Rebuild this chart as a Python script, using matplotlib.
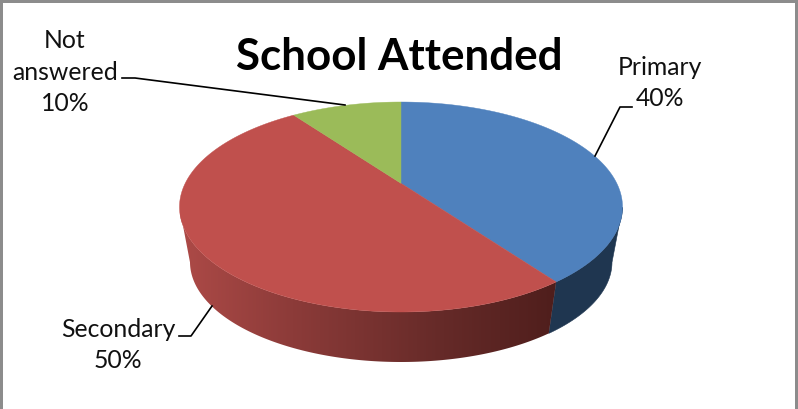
import numpy as np
import matplotlib
matplotlib.use("Agg")
import matplotlib.pyplot as plt
from matplotlib.patches import Polygon, Rectangle
from matplotlib.colors import LinearSegmentedColormap

title = "School Attended"
categories = ["Primary", "Secondary", "Not\nanswered"]
values = [40, 50, 10]
top_colors = ["#4f81bd", "#c0504d", "#9bbb59"]

W, H = 798, 409
plt.rcParams["font.family"] = ["Lato", "DejaVu Sans"]
fig = plt.figure(figsize=(W / 100, H / 100), dpi=100)
ax = fig.add_axes([0, 0, 1, 1])
ax.axis("off")

# pie geometry in pixels
CX, CY, RX, RY = 401, 207, 221.5, 105
BX, BY, BRX, BRY = 401, 262, 211, 100
K = 0.795  # perspective warp of the pie angles


def warp(theta):
    """Map true angle clockwise from 12 o'clock to its perspective angle."""
    return 2 * np.arctan2(K * np.sin(theta / 2), np.cos(theta / 2))


def top_pt(phi):
    return CX + RX * np.sin(phi), CY - RY * np.cos(phi)


def bot_pt(phi):
    return BX + BRX * np.sin(phi), BY - BRY * np.cos(phi)


edges = np.concatenate([[0], np.cumsum(values)]) / sum(values) * 2 * np.pi
apex = (CX, CY - RY * (1 - K**2) / (1 + K**2))

red_wall = LinearSegmentedColormap.from_list(
    "wall", [(0, "#ad4a47"), (0.3, "#8c3b39"), (0.7, "#652a28"), (1, "#4f1e1c")]
)

# side wall (front half only)
for i, color in enumerate(top_colors):
    t = np.linspace(edges[i], edges[i + 1], 400)
    phi = np.mod(warp(t), 2 * np.pi)
    phi = phi[(phi >= np.pi / 2) & (phi <= 3 * np.pi / 2)]
    if phi.size < 2:
        continue
    xt, yt = top_pt(phi)
    xb, yb = bot_pt(phi)
    outline = np.column_stack([np.r_[xt, xb[::-1]], np.r_[yt, yb[::-1]]])
    if i == 0:
        ax.add_patch(Polygon(outline, closed=True, fc="#1f3650", ec="#1f3650",
                             lw=0.4, zorder=2))
    else:
        x0, x1 = outline[:, 0].min(), outline[:, 0].max()
        y0, y1 = outline[:, 1].min(), outline[:, 1].max()
        grad = np.linspace(0, 1, 256).reshape(1, -1)
        im = ax.imshow(grad, cmap=red_wall, extent=(x0, x1, y1, y0), aspect="auto",
                       zorder=2, interpolation="bilinear")
        clip = Polygon(outline, closed=True, transform=ax.transData, fc="none", ec="none")
        ax.add_patch(clip)
        im.set_clip_path(clip)

ax.set_xlim(0, W)
ax.set_ylim(H, 0)

# top face
for i, color in enumerate(top_colors):
    t = np.linspace(edges[i], edges[i + 1], 300)
    phi = warp(t)
    xs, ys = top_pt(phi)
    pts = np.column_stack([np.r_[apex[0], xs], np.r_[apex[1], ys]])
    ax.add_patch(Polygon(pts, closed=True, fc=color, ec=color, lw=0.3, zorder=3))

# leader lines
leaders = [
    ([632, 620, 595], [107, 107, 156]),
    ([179, 191, 212], [336, 336, 306]),
    ([122, 135, 345], [78, 78, 105]),
]
for lx, ly in leaders:
    ax.plot(lx, ly, color="black", lw=1.2, zorder=4, solid_joinstyle="round")

# labels
label_pos = [(660, 83), (118, 345), (65, 72)]
for cat, val, (x, y) in zip(categories, values, label_pos):
    ax.text(x, y, f"{cat}\n{val}%", ha="center", va="center", fontsize=17.8,
            color="#111111", linespacing=1.45, zorder=5)

ax.text(399, 57, title, ha="center", va="center", fontsize=31.6, fontweight="bold",
        color="black", zorder=5)

# chart-area border: top, left, right
for rect in [(0, 0, W, 2.5), (0, 0, 2.5, H), (W - 3, 0, 2.5, H)]:
    ax.add_patch(Rectangle(rect[:2], rect[2], rect[3], fc="#8c8c8c", ec="none", zorder=6))

fig.savefig("out.png", dpi=100, facecolor="white")
